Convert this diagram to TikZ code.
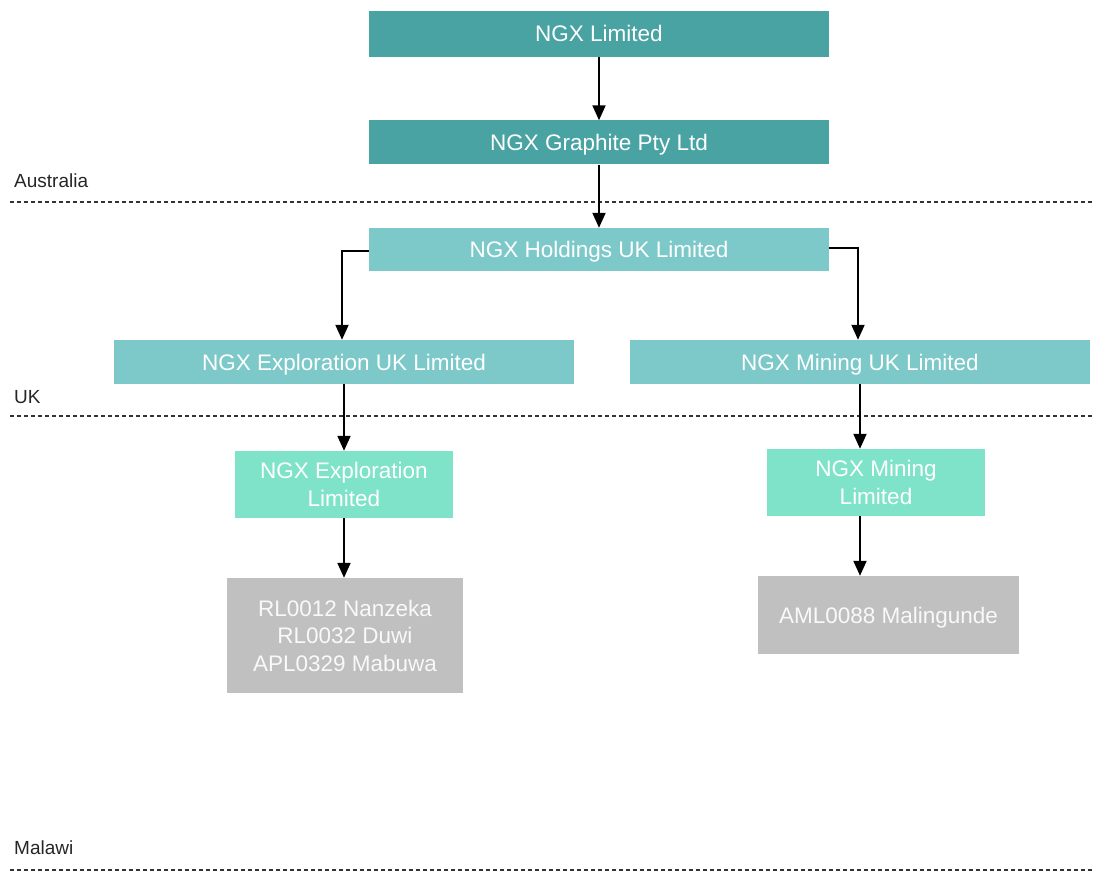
\documentclass[tikz,border=0pt]{standalone}
\usepackage{fontspec}
\setmainfont{Liberation Sans}
\usetikzlibrary{arrows.meta}
\definecolor{tealdark}{HTML}{4AA3A3}
\definecolor{teallight}{HTML}{7DC9C9}
\definecolor{mint}{HTML}{7FE3C9}
\definecolor{boxgray}{HTML}{C0C0C0}
\definecolor{linegray}{HTML}{333333}
\tikzset{
  box/.style={rectangle, inner sep=0pt, text=white, align=center,
    font=\fontsize{22.5}{27.5}\selectfont},
  one/.style={text height=16pt, text depth=0pt},
  dark/.style={box, one, fill=tealdark},
  light/.style={box, one, fill=teallight},
  mintbox/.style={box, fill=mint},
  graybox/.style={box, fill=boxgray, text=white!95!gray},
  conn/.style={line width=2pt, black, -{Triangle[width=13pt,length=15pt]}},
  region/.style={line width=1.1pt, linegray, dash pattern=on 4pt off 3pt},
  lbl/.style={anchor=west, inner sep=0pt, text=black!85, font=\fontsize{19}{22}\selectfont}
}
\begin{document}
\begin{tikzpicture}[x=1pt,y=1pt]
\useasboundingbox (0,0) rectangle (1095,-872);
% region separators
\node[lbl] (aus) at (14,-181) {Australia};
\node[lbl] (uk) at (14,-397) {UK};
\node[lbl] (mal) at (14,-848) {Malawi};
\coordinate (d1a) at (10,-202); \coordinate (d1b) at (1095,-202);
\coordinate (d2a) at (10,-416); \coordinate (d2b) at (1095,-416);
\coordinate (d3a) at (10,-870); \coordinate (d3b) at (1095,-870);
\draw[region] (d1a) -- (d1b);
\draw[region] (d2a) -- (d2b);
\draw[region] (d3a) -- (d3b);
% boxes
\node[dark, minimum width=460, minimum height=46] (ngx) at (599,-34) {NGX Limited};
\node[dark, minimum width=460, minimum height=44] (graph) at (599,-142.5) {NGX Graphite Pty Ltd};
\node[light, minimum width=460, minimum height=43] (hold) at (599,-249.5) {NGX Holdings UK Limited};
\node[light, minimum width=460, minimum height=44] (expuk) at (344,-362) {NGX Exploration UK Limited};
\node[light, minimum width=460, minimum height=44] (minuk) at (860,-362) {NGX Mining UK Limited};
\node[mintbox, minimum width=218, minimum height=67] (expl) at (344,-484.5) {NGX Exploration\\Limited};
\node[mintbox, minimum width=218, minimum height=67] (minl) at (876,-482.5) {NGX Mining\\Limited};
\node[graybox, minimum width=236, minimum height=115] (gexp) at (345,-635.5) {RL0012 Nanzeka\\RL0032 Duwi\\APL0329 Mabuwa};
\node[graybox, one, minimum width=261, minimum height=78] (gmin) at (888.5,-615) {AML0088 Malingunde};
% connectors
\draw[conn] (ngx.south) -- (graph.north);
\draw[conn] (graph.south) -- (hold.north);
\draw[conn] ([yshift=-1.5pt]hold.west) -| ([xshift=-2pt]expuk.north);
\draw[conn] ([yshift=1.5pt]hold.east) -| ([xshift=-2pt]minuk.north);
\draw[conn] (expuk.south) -- (expl.north);
\draw[conn] (minuk.south) -- (minl.north -| minuk.south);
\draw[conn] (expl.south) -- (gexp.north -| expl.south);
\draw[conn] (minl.south -| minuk.south) -- (gmin.north -| minuk.south);
\end{tikzpicture}
\end{document}
